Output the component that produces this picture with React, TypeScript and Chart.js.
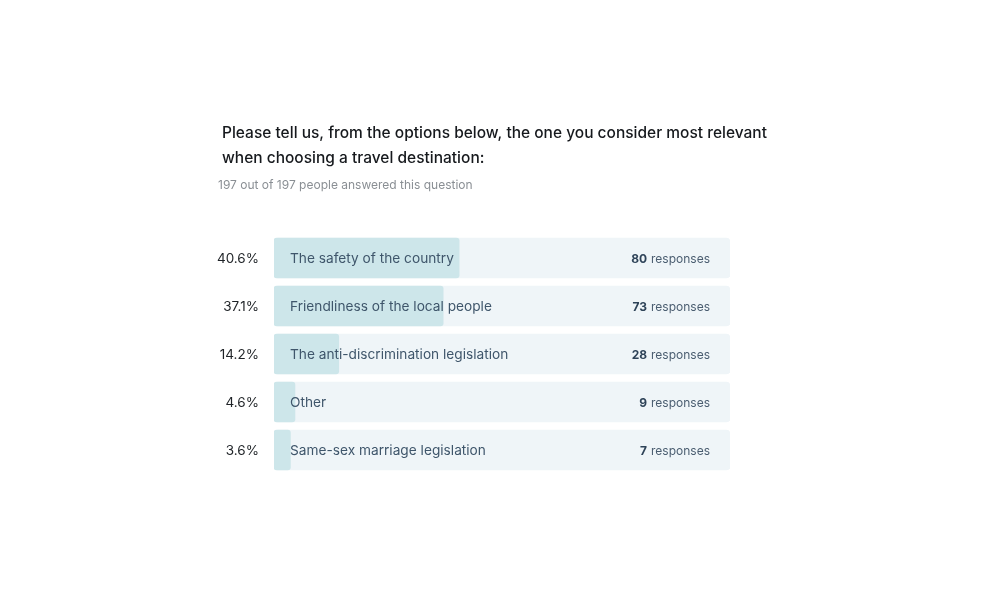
import React, { useEffect, useRef } from "react";
import { Chart, registerables } from "chart.js";

Chart.register(...registerables);

const categories = [
  "The safety of the country",
  "Friendliness of the local people",
  "The anti-discrimination legislation",
  "Other",
  "Same-sex marriage legislation",
];
const responses = [80, 73, 28, 9, 7];
const percentages = [40.6, 37.1, 14.2, 4.6, 3.6];
const trackValues = [100, 100, 100, 100, 100];
const titleLines = [
  "Please tell us, from the options below, the one you consider most relevant",
  "when choosing a travel destination:",
];
const subtitle = "197 out of 197 people answered this question";

const FONT = "Inter, 'Noto Sans', 'DejaVu Sans', sans-serif";

const labelsPlugin = {
  id: "surveyLabels",
  afterDatasetsDraw(chart: any) {
    const { ctx } = chart;
    const yScale = chart.scales.y;
    const xScale = chart.scales.x;
    ctx.save();
    // Title
    ctx.fillStyle = "#16191d";
    ctx.font = `500 15.5px ${FONT}`;
    ctx.textAlign = "left";
    ctx.textBaseline = "middle";
    ctx.fillText(titleLines[0], 222, 133);
    ctx.fillText(titleLines[1], 222, 158);
    ctx.fillStyle = "#8a8f94";
    ctx.font = `12px ${FONT}`;
    ctx.fillText(subtitle, 218, 185);

    categories.forEach((cat, i) => {
      const y = yScale.getPixelForValue(i) + 1;
      const left = xScale.getPixelForValue(0);
      // percent
      ctx.fillStyle = "#1e2226";
      ctx.font = `13.5px ${FONT}`;
      ctx.textAlign = "right";
      ctx.fillText(`${percentages[i].toFixed(1)}%`, left - 15, y);
      // category label
      ctx.fillStyle = "#3f566b";
      ctx.font = `13.7px ${FONT}`;
      ctx.textAlign = "left";
      ctx.fillText(cat, left + 16, y);
      // responses
      const right = xScale.getPixelForValue(100) - 20;
      ctx.font = `12px ${FONT}`;
      ctx.textAlign = "right";
      ctx.fillStyle = "#4a5d70";
      ctx.fillText("responses", right, y);
      const w = ctx.measureText("responses").width;
      ctx.font = `bold 12px ${FONT}`;
      ctx.fillStyle = "#2e4358";
      ctx.fillText(String(responses[i]), right - w - 4, y);
    });
    ctx.restore();
  },
};

export default function App() {
  const canvasRef = useRef<HTMLCanvasElement | null>(null);

  useEffect(() => {
    if (!canvasRef.current) return;
    const chart = new Chart(canvasRef.current, {
      type: "bar",
      data: {
        labels: categories,
        datasets: [
          {
            label: "share",
            data: percentages,
            backgroundColor: "#cde6ea",
            borderRadius: 3,
            borderSkipped: false,
            barThickness: 40,
            grouped: false,
            order: 1,
          },
          {
            label: "track",
            data: trackValues,
            backgroundColor: "#eff5f8",
            borderRadius: 4,
            borderSkipped: false,
            barThickness: 40,
            grouped: false,
            order: 2,
          },
        ],
      },
      options: {
        indexAxis: "y",
        animation: false,
        responsive: false,
        maintainAspectRatio: false,
        layout: { padding: { left: 274, right: 270, top: 234, bottom: 126 } },
        scales: {
          x: { display: false, min: 0, max: 100 },
          y: { display: false },
        },
        plugins: {
          legend: { display: false },
          tooltip: { enabled: false },
          title: { display: false },
        },
      },
      plugins: [labelsPlugin],
    });
    return () => chart.destroy();
  }, []);

  return (
    <div style={{ position: "fixed", left: 0, top: 0, width: 1000, height: 600, background: "#fff" }}>
      <canvas ref={canvasRef} width={1000} height={600} style={{ width: 1000, height: 600 }} />
    </div>
  );
}
